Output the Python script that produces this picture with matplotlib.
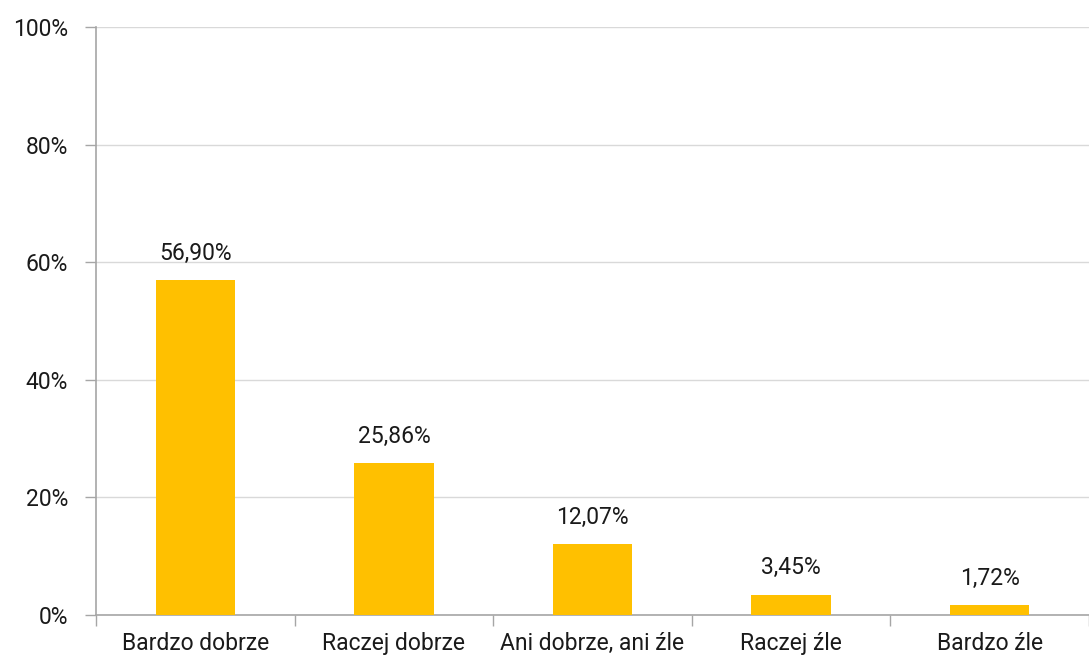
import matplotlib.pyplot as plt
from matplotlib.ticker import FixedLocator, PercentFormatter

categories = ["Bardzo dobrze", "Raczej dobrze", "Ani dobrze, ani źle", "Raczej źle", "Bardzo źle"]
values = [56.90, 25.86, 12.07, 3.45, 1.72]
labels = ["56,90%", "25,86%", "12,07%", "3,45%", "1,72%"]

plt.rcParams["font.family"] = ["Roboto", "DejaVu Sans"]
txt = "#1a1a1a"
fs = 16.5

fig = plt.figure(figsize=(10.89, 6.57), dpi=100)
ax = fig.add_axes([96 / 1089, 42 / 657, 993 / 1089, 588 / 657])

x = range(len(categories))
ax.bar(x, values, width=0.4, color="#FFC000", zorder=3)
for i, (v, lab) in enumerate(zip(values, labels)):
    ax.text(i, v + 2.6, lab, ha="center", va="bottom", fontsize=fs, color=txt)

ax.set_xlim(-0.5, len(categories) - 0.5)
ax.set_ylim(0, 100)
ax.set_yticks([0, 20, 40, 60, 80, 100])
ax.yaxis.set_major_formatter(PercentFormatter(decimals=0))
ax.set_xticks(list(x))
ax.set_xticklabels(categories)
ax.xaxis.set_minor_locator(FixedLocator([i - 0.5 for i in range(len(categories) + 1)]))
ax.tick_params(axis="x", which="major", length=0, pad=12, labelsize=fs, labelcolor=txt)
ax.tick_params(axis="x", which="minor", length=8, color="#A6A6A6", width=1)
ax.tick_params(axis="y", length=8, color="#A6A6A6", width=1, pad=12, labelsize=fs, labelcolor=txt)

ax.grid(axis="y", color="#D9D9D9", linewidth=1, zorder=0)
for side in ["top", "right"]:
    ax.spines[side].set_visible(False)
for side in ["left", "bottom"]:
    ax.spines[side].set_color("#A6A6A6")
    ax.spines[side].set_linewidth(1.2)

fig.savefig("out.png", dpi=100)
